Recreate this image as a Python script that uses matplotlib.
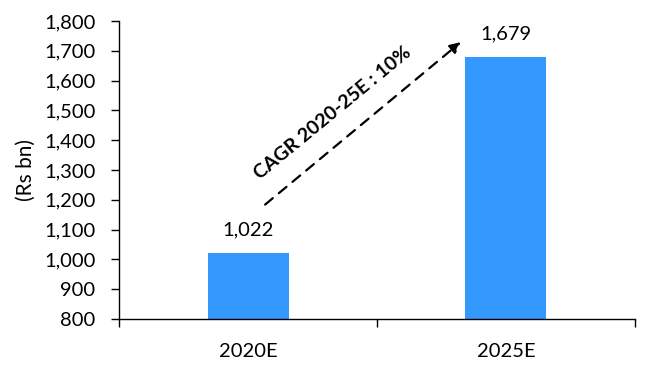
import matplotlib.pyplot as plt
from matplotlib.ticker import FuncFormatter, FixedLocator

# market size, Rs bn
years = ["2020E", "2025E"]
values = [1022, 1679]
cagr_text = "CAGR 2020-25E : 10%"

plt.rcParams['font.family'] = ['Lato', 'DejaVu Sans']

fig = plt.figure(figsize=(6.49, 3.67), dpi=100)
ax = fig.add_axes([0.1834, 0.1308, 0.795, 0.812])

pos = list(range(len(years)))
ax.bar(pos, values, width=0.314, color='#3399FF', zorder=2)

for x, v in zip(pos, values):
    ax.text(x, v + 60, f"{v:,}", ha='center', va='baseline', fontsize=14.5)

ax.set_xlim(-0.5, 1.5)
ax.set_ylim(800, 1800)
ax.set_yticks(range(800, 1801, 100))
ax.yaxis.set_major_formatter(FuncFormatter(lambda v, p: f"{int(v):,}"))
ax.set_xticks(pos)
ax.set_xticklabels(years)
ax.xaxis.set_minor_locator(FixedLocator([-0.5, 0.5, 1.5]))
ax.tick_params(axis='x', which='major', length=0, pad=17, labelsize=14.5)
ax.tick_params(axis='x', which='minor', length=6, direction='out', width=1)
ax.tick_params(axis='y', length=6, direction='out', width=1, labelsize=14.5, pad=11)

for side in ['top', 'right']:
    ax.spines[side].set_visible(False)
for side in ['left', 'bottom']:
    ax.spines[side].set_linewidth(1)

ax.set_ylabel("(Rs bn)", fontsize=15, labelpad=6)

# growth arrow with CAGR note
ax.annotate("", xy=(0.833, 1735), xytext=(0.058, 1178),
            arrowprops=dict(arrowstyle='-|>', linestyle=(0, (4.5, 3.5)), color='black',
                            lw=1.6, mutation_scale=16))
ax.text(0.329, 1491, cagr_text, rotation=39.5, ha='center', va='center',
        fontsize=14, fontweight='bold', rotation_mode='anchor')

fig.savefig("out.png", dpi=100)
